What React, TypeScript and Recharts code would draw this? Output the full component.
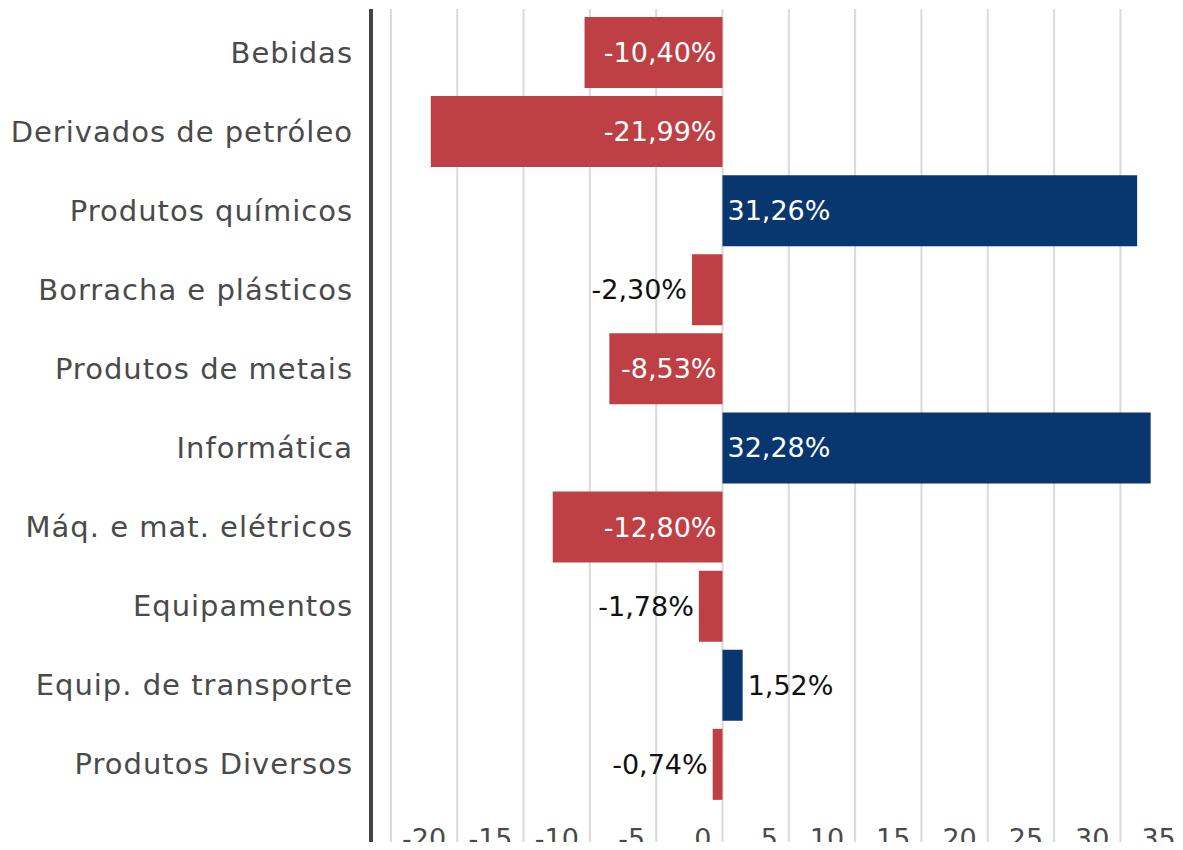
import React from "react";
import { BarChart, Bar, XAxis, YAxis, CartesianGrid, Cell, LabelList } from "recharts";

const categories = [
  "Bebidas",
  "Derivados de petróleo",
  "Produtos químicos",
  "Borracha e plásticos",
  "Produtos de metais",
  "Informática",
  "Máq. e mat. elétricos",
  "Equipamentos",
  "Equip. de transporte",
  "Produtos Diversos",
];
const values = [-10.4, -21.99, 31.26, -2.3, -8.53, 32.28, -12.8, -1.78, 1.52, -0.74];
const xTicks = [-25, -20, -15, -10, -5, 0, 5, 10, 15, 20, 25, 30, 35];

const data = categories.map((name, i) => ({ name, value: values[i] }));

const FONT = "'DejaVu Sans', 'Noto Sans', sans-serif";
const RED = "#BF4044";
const BLUE = "#08366F";

const fmt = (v: number) => v.toFixed(2).replace(".", ",") + "%";

const XTick = (props: any) => {
  const { x, y, payload } = props;
  if (payload.value === -25) return null;
  return (
    <text x={x - 11} y={y} dy={-2} textAnchor="end" fontSize={27} fill="#4a4a4a" fontFamily={FONT}>
      {payload.value}
    </text>
  );
};

const YTick = (props: any) => {
  const { x, y, payload } = props;
  return (
    <text
      x={x}
      y={y}
      textAnchor="end"
      dominantBaseline="central"
      fontSize={29}
      letterSpacing={1}
      fill="#4a4a4a"
      fontFamily={FONT}
    >
      {payload.value}
    </text>
  );
};

const ValueLabel = (props: any) => {
  const { x, y, width, height, value } = props;
  const v = Number(value);
  const left = Math.min(x, x + width);
  const right = Math.max(x, x + width);
  const cy = y + height / 2;
  const inside = Math.abs(v) >= 5;
  let tx: number;
  let anchor: "start" | "end";
  if (v < 0) {
    tx = inside ? right - 6 : left - 5;
    anchor = "end";
  } else {
    tx = inside ? left + 5 : right + 5;
    anchor = "start";
  }
  return (
    <text
      x={tx}
      y={cy}
      dominantBaseline="central"
      textAnchor={anchor}
      fontSize={27}
      fill={inside ? "#ffffff" : "#111111"}
      fontFamily={FONT}
    >
      {fmt(v)}
    </text>
  );
};

export default function App() {
  return (
    <div style={{ margin: -8, width: 1183, height: 850, overflow: "hidden", position: "relative" }}>
      <BarChart
        width={1200}
        height={900}
        data={data}
        layout="vertical"
        margin={{ top: 9, right: 0, bottom: 0, left: 0 }}
        barCategoryGap="5%"
      >
        <CartesianGrid horizontal={false} vertical={true} stroke="#d9d9d9" strokeWidth={2} />
        <XAxis
          type="number"
          domain={[-26.5, 36]}
          ticks={xTicks}
          height={50}
          axisLine={false}
          tickLine={false}
          tickSize={0}
          tickMargin={0}
          tick={<XTick />}
          interval={0}
          allowDataOverflow
        />
        <YAxis
          type="category"
          dataKey="name"
          width={371}
          axisLine={{ stroke: "#444444", strokeWidth: 4 }}
          tickLine={false}
          tickSize={0}
          tickMargin={18}
          padding={{ top: 4, bottom: 46 }}
          tick={<YTick />}
          interval={0}
        />
        <Bar dataKey="value" isAnimationActive={false}>
          {data.map((d, i) => (
            <Cell key={i} fill={d.value < 0 ? RED : BLUE} />
          ))}
          <LabelList dataKey="value" content={<ValueLabel />} />
        </Bar>
      </BarChart>
    </div>
  );
}
